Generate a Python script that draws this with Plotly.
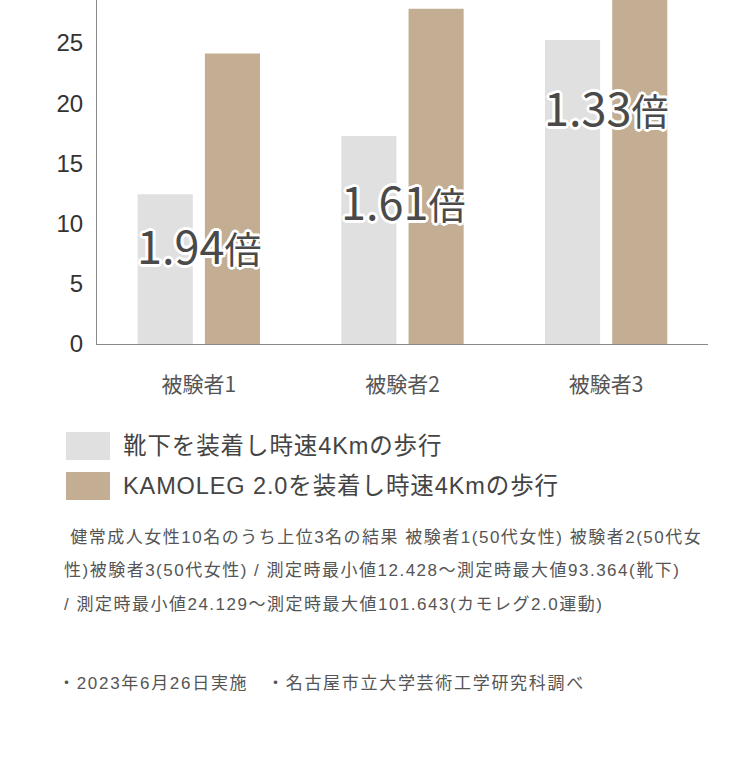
import plotly.graph_objects as go

# ---- data ----
subjects = ["被験者1", "被験者2", "被験者3"]
socks = [12.43, 17.27, 25.25]
kamoleg = [24.13, 27.85, 33.6]
ratio_labels = ["1.94", "1.61", "1.33"]
ratio_unit = "倍"
series_names = ["靴下を装着し時速4Kmの歩行", "KAMOLEG 2.0を装着し時速4Kmの歩行"]
y_ticks = [0, 5, 10, 15, 20, 25]
note_lines = [
    " 健常成人女性10名のうち上位3名の結果 被験者1(50代女性) 被験者2(50代女",
    "性)被験者3(50代女性) / 測定時最小値12.428～測定時最大値93.364(靴下)",
    "/ 測定時最小値24.129～測定時最大値101.643(カモレグ2.0運動)",
]
source_line = "・2023年6月26日実施　・名古屋市立大学芸術工学研究科調べ"

# ---- layout constants ----
W, H = 750, 760
L, R, T, B = 97, 42, 0, 416
PW, PH = W - L - R, H - T - B
Y_MAX = 28.57
colors = ["#e0e0e0", "#c3ae94"]
FONT = "Noto Sans CJK JP"
WIDE = "Liberation Sans, Noto Sans CJK JP"


def px_x(px):
    return (px - L) / PW


def px_y(py):
    return (T + PH - py) / PH


def spaced(text, ls):
    return f"<span style='letter-spacing:{ls}px'>{text}</span>"


fig = go.Figure()
fig.add_trace(go.Bar(x=subjects, y=socks, name=series_names[0],
                     marker=dict(color=colors[0], line=dict(width=0))))
fig.add_trace(go.Bar(x=subjects, y=kamoleg, name=series_names[1],
                     marker=dict(color=colors[1], line=dict(width=0))))

annotations = []
label_y = [8.25, 11.95, 19.75]
outline = ",".join(f"{dx}px {dy}px 0 #ffffff" for dx, dy in
                   [(2, 0), (-2, 0), (0, 2), (0, -2), (2, 2), (-2, -2), (2, -2), (-2, 2),
                    (3, 0), (-3, 0), (0, 3), (0, -3)])
for s, lab, yv in zip(subjects, ratio_labels, label_y):
    annotations.append(dict(
        x=s, y=yv, xref="x", yref="y", showarrow=False,
        text=f"{lab}<span style='font-size:37px'>{ratio_unit}</span>",
        font=dict(family=FONT, size=45, color="#4a4a4a", shadow=outline),
        xanchor="center", yanchor="middle",
    ))

# legend (manual, large swatches)
shapes = []
for i, (name, col) in enumerate(zip(series_names, colors)):
    top = 432 + i * 40
    shapes.append(dict(type="rect", xref="paper", yref="paper",
                       x0=px_x(66), x1=px_x(110), y0=px_y(top + 28), y1=px_y(top),
                       fillcolor=col, line=dict(width=0)))
    annotations.append(dict(
        x=px_x(121), y=px_y(top + 14), xref="paper", yref="paper",
        text=spaced(name, 0.9), showarrow=False, xanchor="left", yanchor="middle",
        font=dict(family=WIDE, size=23.5, color="#444444")))

for i, line in enumerate(note_lines):
    annotations.append(dict(
        x=px_x(62), y=px_y(537 + i * 33.5), xref="paper", yref="paper",
        text=spaced(line, 1.5), showarrow=False, xanchor="left", yanchor="middle",
        font=dict(family=WIDE, size=17, color="#555555")))

annotations.append(dict(
    x=px_x(56), y=px_y(683), xref="paper", yref="paper",
    text=spaced(source_line, 1.7), showarrow=False, xanchor="left", yanchor="middle",
    font=dict(family=WIDE, size=17, color="#555555")))

fig.update_layout(
    width=W, height=H,
    margin=dict(l=L, r=R, t=T, b=B, pad=0),
    paper_bgcolor="white", plot_bgcolor="white",
    barmode="group", bargap=0.34, bargroupgap=0.18,
    showlegend=False,
    font=dict(family=FONT),
    annotations=annotations,
    shapes=shapes,
)
fig.update_xaxes(
    showline=True, linecolor="#8a8a8a", linewidth=1, showgrid=False,
    ticks="", tickfont=dict(family=FONT, size=21, color="#555555"),
    ticklabelstandoff=22, fixedrange=True,
)
fig.update_yaxes(
    range=[0, Y_MAX], showline=True, linecolor="#8a8a8a", linewidth=1,
    showgrid=False, zeroline=False, ticks="", tickvals=y_ticks,
    tickfont=dict(family=WIDE, size=24, color="#333333"),
    ticklabelstandoff=8, fixedrange=True,
)

fig.write_html("out.html")
